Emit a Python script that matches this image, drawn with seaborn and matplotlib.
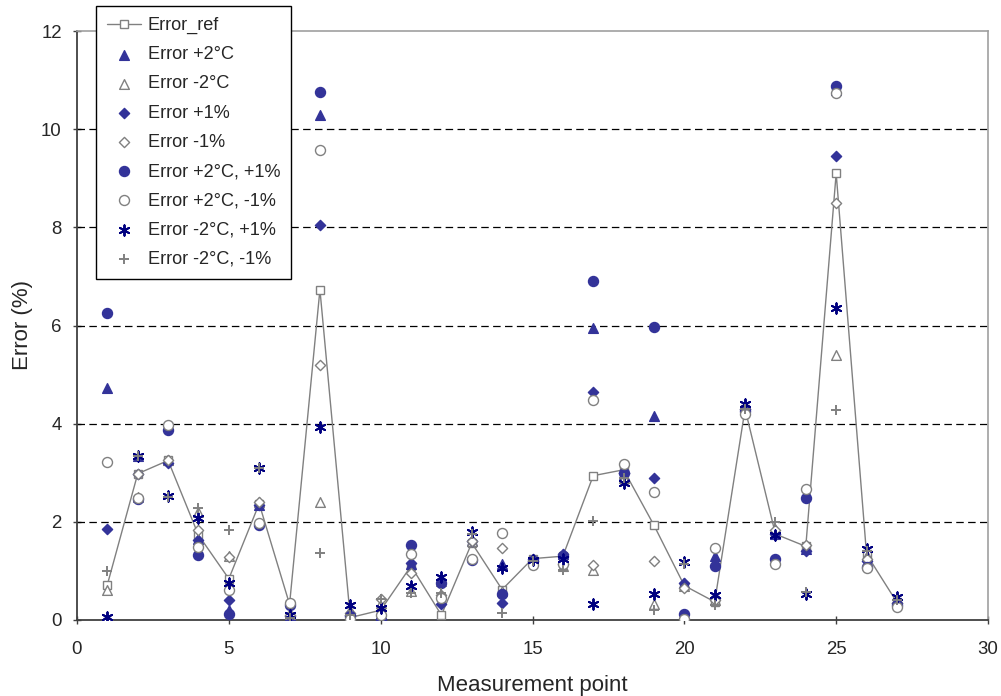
import numpy as np
import pandas as pd
import matplotlib
matplotlib.use("Agg")
import matplotlib.pyplot as plt
import seaborn as sns

points = list(range(1, 28))
err_ref = [0.72, 2.98, 3.25, 1.73, 0.84, 2.37, 0.32, 6.73, 0.05, 0.2, 1.1, 0.1, 1.57, 0.62, 1.25, 1.3, 2.94, 3.06, 1.93, 0.7, 0.37, 4.3, 1.75, 1.5, 9.1, 1.34, 0.36]
err_p2c = [4.73, 3.35, 3.25, 1.65, 0.2, 2.35, 0.1, 10.29, 0.15, 0.05, 1.15, 0.85, 1.6, 1.15, 1.25, 1.35, 5.95, 2.95, 4.16, 0.75, 1.3, 4.35, 1.75, 1.45, 10.8, 1.3, 0.4]
err_m2c = [0.62, 2.5, 3.25, 2.2, 1.3, 2.4, 0.12, 2.41, 0.2, 0.35, 0.6, 0.8, 1.6, 0.6, 1.2, 1.1, 1.02, 2.9, 0.33, 0.7, 0.4, 4.3, 1.85, 1.5, 5.39, 1.3, 0.4]
err_p1 = [1.85, 2.98, 3.2, 1.62, 0.4, 2.35, 0.08, 8.04, 0.1, 0.02, 1.17, 0.32, 1.6, 0.35, 1.25, 1.35, 4.64, 3.0, 2.89, 0.75, 0.45, 4.3, 1.75, 1.41, 9.46, 1.2, 0.35]
err_m1 = [0.0, 2.98, 3.25, 1.83, 1.28, 2.4, 0.1, 5.19, 0.15, 0.42, 0.95, 0.5, 1.6, 1.46, 1.2, 1.15, 1.12, 3.0, 1.2, 0.65, 0.4, 4.3, 1.84, 1.52, 8.5, 1.25, 0.35]
err_p2c_p1 = [6.25, 2.47, 3.87, 1.33, 0.13, 1.93, 0.3, 10.76, 0.08, 0.0, 1.52, 0.76, 1.22, 0.52, 1.2, 1.3, 6.90, 3.0, 5.96, 0.12, 1.1, 4.25, 1.24, 2.49, 10.88, 1.07, 0.3]
err_p2c_m1 = [3.22, 2.49, 3.97, 1.49, 0.62, 1.98, 0.35, 9.57, 0.02, 0.1, 1.34, 0.45, 1.24, 1.78, 1.12, 1.14, 4.49, 3.18, 2.6, 0.03, 1.47, 4.19, 1.14, 2.66, 10.73, 1.05, 0.26]
err_m2c_p1 = [0.07, 3.35, 2.52, 2.07, 0.75, 3.1, 0.1, 3.94, 0.3, 0.25, 0.7, 0.87, 1.79, 1.06, 1.23, 1.25, 0.33, 2.79, 0.53, 1.19, 0.51, 4.4, 1.73, 0.52, 6.36, 1.45, 0.46]
err_m2c_m1 = [1.0, 3.35, 2.5, 2.28, 1.83, 3.1, 0.05, 1.36, 0.1, 0.42, 0.56, 0.56, 1.75, 0.15, 1.2, 1.02, 2.01, 2.89, 0.2, 1.15, 0.3, 4.3, 2.0, 0.58, 4.28, 1.4, 0.4]

labels = ["Error_ref", "Error +2°C", "Error -2°C", "Error +1%", "Error -1%",
          "Error +2°C, +1%", "Error +2°C, -1%", "Error -2°C, +1%", "Error -2°C, -1%"]

sns.set_style("white")
plt.rcParams['font.family'] = ['Liberation Sans', 'DejaVu Sans']

fig = plt.figure(figsize=(10.01, 6.96), dpi=100)
ax = fig.add_axes([77/1001, 1 - 620/696, (988-77)/1001, (620-31)/696])

BLUE = "#333399"
NAVY = "#000080"
GRAY = "#808080"

df = pd.DataFrame({"point": points, "ref": err_ref})
sns.lineplot(data=df, x="point", y="ref", ax=ax, color=GRAY, lw=1.0, marker="s",
             markersize=6.2, markerfacecolor="white", markeredgecolor=GRAY,
             markeredgewidth=1.0, label=labels[0], zorder=3)

series = [
    (err_p2c, "^", BLUE, BLUE, 7.0),
    (err_m2c, "^", "white", GRAY, 7.0),
    (err_p1, "D", BLUE, BLUE, 5.2),
    (err_m1, "D", "white", GRAY, 5.2),
    (err_p2c_p1, "o", BLUE, BLUE, 7.2),
    (err_p2c_m1, "o", "white", GRAY, 7.2),
    (err_m2c_p1, (6, 2, 0), "none", NAVY, 7.5),
    (err_m2c_m1, "+", "none", GRAY, 7.0),
]
for (vals, mk, fc, ec, ms), lab in zip(series, labels[1:]):
    d = pd.DataFrame({"point": points, "err": vals})
    if fc == "none":
        sns.scatterplot(data=d, x="point", y="err", ax=ax, marker=mk, color=ec,
                        s=ms**2, linewidth=1.4, label=lab, zorder=4)
    else:
        sns.scatterplot(data=d, x="point", y="err", ax=ax, marker=mk, facecolor=fc,
                        edgecolor=ec, s=ms**2, linewidth=1.0, label=lab, zorder=4)

ax.set_xlim(0, 30)
ax.set_ylim(0, 12)
ax.set_xticks(range(0, 31, 5))
ax.set_yticks(range(0, 13, 2))
ax.tick_params(axis="both", labelsize=13.4, direction="inout", length=6, width=1,
               color="#404040", bottom=True, left=True)
ax.tick_params(axis="x", pad=12)
ax.tick_params(axis="y", pad=8)
for y in range(2, 12, 2):
    ax.axhline(y, color="black", lw=0.9, ls=(0, (6, 3.5)), zorder=1)
for side in ["top", "right"]:
    ax.spines[side].set_color("#a0a0a0")
    ax.spines[side].set_linewidth(1.2)
for side in ["left", "bottom"]:
    ax.spines[side].set_color("#404040")
    ax.spines[side].set_linewidth(1.3)
ax.set_xlabel("Measurement point", fontsize=16, labelpad=12)
ax.set_ylabel("Error (%)", fontsize=16, labelpad=6)

if ax.get_legend():
    ax.get_legend().remove()
handles, labs = ax.get_legend_handles_labels()
leg = fig.legend(handles, labs, loc="upper left", bbox_to_anchor=(96/1001, 1 - 6/696),
                 fontsize=13.1, frameon=True, fancybox=False, framealpha=1,
                 edgecolor="black", labelspacing=0.67, handlelength=1.9,
                 borderpad=0.6, handletextpad=0.35, borderaxespad=0)
leg.get_frame().set_linewidth(1.0)
leg.set_zorder(10)

fig.savefig("out.png", dpi=100)
